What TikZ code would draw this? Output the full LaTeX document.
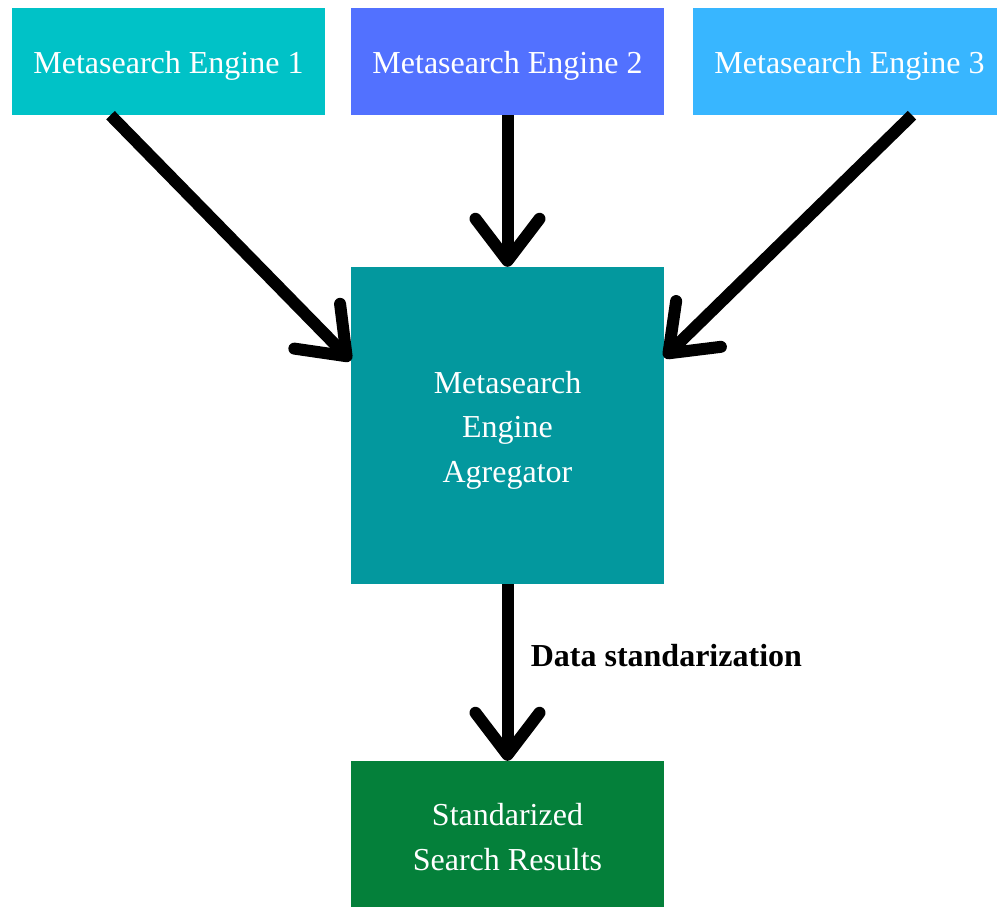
\documentclass[tikz,border=0pt]{standalone}
\usepackage{fontspec}
\setmainfont{Liberation Serif}
\usetikzlibrary{arrows.meta}
\definecolor{cOne}{HTML}{00C2C7}
\definecolor{cTwo}{HTML}{5271FF}
\definecolor{cThree}{HTML}{38B6FF}
\definecolor{cAgg}{HTML}{03989E}
\definecolor{cRes}{HTML}{04803A}
\tikzset{
  box/.style={fill=#1, draw=none, inner sep=0pt, minimum width=313pt},
  txt/.style={inner sep=0pt, text=white, align=center,
    font=\fontsize{32}{44.5}\selectfont},
  flow/.style={line width=12pt, black,
    -{Straight Barb[round, length=42pt, width=64pt]}}
}
\begin{document}
\begin{tikzpicture}[x=1pt, y=-1pt]
\useasboundingbox (0,0) rectangle (997,906);
\node[box=cOne, minimum height=107pt] (e1) at (168.5,61.5) {};
\node[box=cTwo, minimum height=107pt] (e2) at (507.5,61.5) {};
\node[box=cThree, minimum height=107pt] (e3) at (849.5,61.5) {};
\node[box=cAgg, minimum height=317pt] (agg) at (507.5,425.5) {};
\node[box=cRes, minimum height=150pt] (res) at (507.5,836) {};
\node[txt] (e1t) at ([yshift=-4.5pt]e1.center) {Metasearch Engine 1};
\node[txt] (e2t) at ([yshift=-4.5pt]e2.center) {Metasearch Engine 2};
\node[txt] (e3t) at ([yshift=-4.5pt]e3.center) {Metasearch Engine 3};
\node[txt] (aggt) at ([yshift=-4.5pt]agg.center) {Metasearch\\Engine\\Agregator};
\node[txt] (rest) at ([yshift=-1pt]res.center) {Standarized\\Search Results};
\draw[flow] ([xshift=-58pt]e1.south) -- ([yshift=65pt]agg.west);
\draw[flow] (e2.south) -- (agg.north);
\draw[flow] ([xshift=62.5pt]e3.south) -- ([yshift=68pt]agg.east);
\draw[flow] (agg.south) -- node[right, xshift=14pt, yshift=17pt, font=\fontsize{32}{38}\selectfont\bfseries] (lbl) {Data standarization} (res.north);
\end{tikzpicture}
\end{document}
